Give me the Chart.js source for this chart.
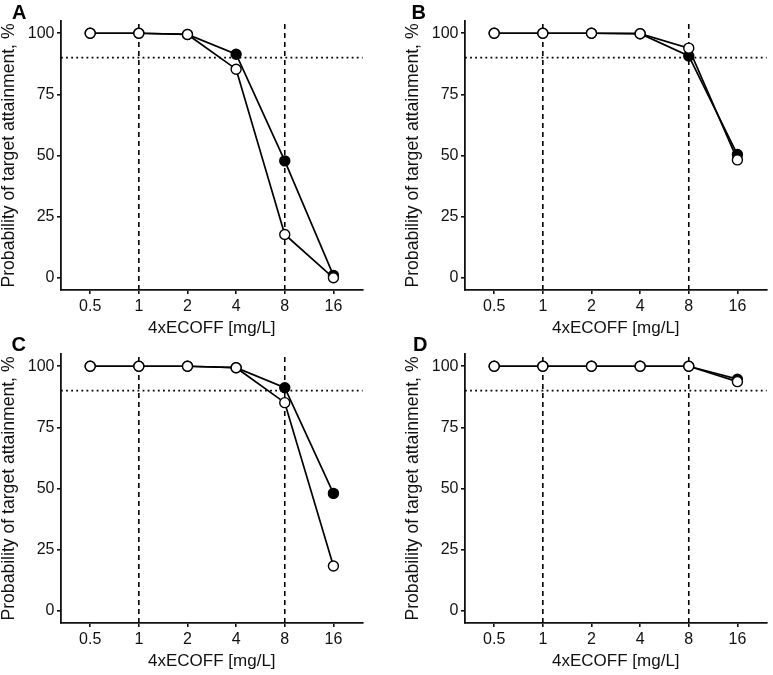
<!DOCTYPE html>
<html>
<head>
<meta charset="utf-8">
<script src="https://cdn.jsdelivr.net/npm/chart.js@4"></script>
<style>
  html, body { margin: 0; padding: 0; background: #fff; overflow: hidden; }
  body { width: 773px; height: 675px; position: relative; }
  .panel { position: absolute; width: 369px; height: 337px; }
  .letter { position: absolute; font: bold 20px "Liberation Sans", Arial, sans-serif; line-height: 1; color: #000; }
</style>
</head>
<body>
<div class="panel" style="left:0px;top:0px"><canvas id="cA" width="369" height="337"></canvas></div>
<div class="panel" style="left:404px;top:0px"><canvas id="cB" width="369" height="337"></canvas></div>
<div class="panel" style="left:0px;top:333px"><canvas id="cC" width="369" height="337"></canvas></div>
<div class="panel" style="left:404px;top:333px"><canvas id="cD" width="369" height="337"></canvas></div>
<div class="letter" style="left:12px;top:1.5px">A</div>
<div class="letter" style="left:411.5px;top:1.5px">B</div>
<div class="letter" style="left:11.5px;top:334px">C</div>
<div class="letter" style="left:413px;top:334px">D</div>
<script>
// ---- data ----
const categories = ["0.5", "1", "2", "4", "8", "16"];
const yTickValues = [0, 25, 50, 75, 100];
const xTitle = "4xECOFF [mg/L]";
const yTitle = "Probability of target attainment, %";
const verticalRefCategories = ["1", "8"];
const targetLine = 90;

const A_filled = [100, 100, 99.5, 91.4, 47.8, 1.0];
const A_open   = [100, 100, 99.5, 85.3, 17.7, 0.0];
const B_filled = [100, 100, 100, 99.8, 90.7, 50.4];
const B_open   = [100, 100, 100, 99.8, 93.9, 48.2];
const C_filled = [100, 100, 100, 99.4, 91.2, 48.0];
const C_open   = [100, 100, 100, 99.4, 85.1, 18.3];
const D_filled = [100, 100, 100, 100, 100, 94.7];
const D_open   = [100, 100, 100, 100, 100, 93.7];

// ---- chart builder ----
const FONT = '"Liberation Sans", Arial, sans-serif';
const AXIS_COLOR = '#111';
const TEXT_COLOR = '#111';
const X_MIN = -0.6, X_MAX = categories.length - 1 + 0.6;
const Y_MIN = -5, Y_MAX = 105;

function toPoints(arr) { return arr.map((v, i) => ({ x: i, y: v })); }

function makeChart(id, filled, open) {
  const refSets = [];
  refSets.push({
    data: [{ x: X_MIN, y: targetLine }, { x: X_MAX, y: targetLine }],
    borderColor: '#000', borderWidth: 1.8, borderDash: [1.8, 3.3],
    pointRadius: 0, order: 10, clip: false
  });
  verticalRefCategories.forEach(c => {
    const xi = categories.indexOf(c);
    refSets.push({
      data: [{ x: xi, y: Y_MIN }, { x: xi, y: Y_MAX }],
      borderColor: '#000', borderWidth: 1.6, borderDash: [5, 4],
      pointRadius: 0, order: 10
    });
  });
  new Chart(document.getElementById(id), {
    type: 'line',
    data: {
      datasets: [
        {
          data: toPoints(open), borderColor: '#000', borderWidth: 1.7,
          pointRadius: 5, pointBorderWidth: 1.4,
          pointBackgroundColor: '#fff', pointBorderColor: '#000', order: 1, clip: false
        },
        {
          data: toPoints(filled), borderColor: '#000', borderWidth: 1.7,
          pointRadius: 5, pointBorderWidth: 1.4,
          pointBackgroundColor: '#000', pointBorderColor: '#000', order: 2, clip: false
        },
        ...refSets
      ]
    },
    options: {
      responsive: false,
      animation: false,
      events: [],
      layout: { padding: { top: 21, right: 3, left: 0, bottom: 0 } },
      plugins: { legend: { display: false }, tooltip: { enabled: false }, title: { display: false } },
      scales: {
        x: {
          type: 'linear', min: X_MIN, max: X_MAX,
          afterFit: s => { s.height = 47; },
          afterBuildTicks: s => { s.ticks = categories.map((_, i) => ({ value: i })); },
          ticks: {
            callback: v => categories[v],
            font: { family: FONT, size: 16 }, color: TEXT_COLOR, padding: 2.5, maxRotation: 0, autoSkip: false
          },
          grid: { drawOnChartArea: false, drawTicks: true, tickLength: 4, color: AXIS_COLOR, lineWidth: 1.6 },
          border: { display: true, color: AXIS_COLOR, width: 1.8 },
          title: { display: true, text: xTitle, font: { family: FONT, size: 17, lineHeight: 1 }, color: TEXT_COLOR, padding: 0 }
        },
        y: {
          type: 'linear', min: Y_MIN, max: Y_MAX,
          afterFit: s => { s.width = 61; },
          afterBuildTicks: s => { s.ticks = yTickValues.map(v => ({ value: v })); },
          ticks: {
            font: { family: FONT, size: 16 }, color: TEXT_COLOR, padding: 2.5
          },
          grid: { drawOnChartArea: false, drawTicks: true, tickLength: 4, color: AXIS_COLOR, lineWidth: 1.6 },
          border: { display: true, color: AXIS_COLOR, width: 1.8 },
          title: { display: true, text: yTitle, font: { family: FONT, size: 17.6, lineHeight: 1 }, color: TEXT_COLOR, padding: { top: 0.8, bottom: 0 } }
        }
      }
    }
  });
}

makeChart('cA', A_filled, A_open);
makeChart('cB', B_filled, B_open);
makeChart('cC', C_filled, C_open);
makeChart('cD', D_filled, D_open);
</script>
</body>
</html>
